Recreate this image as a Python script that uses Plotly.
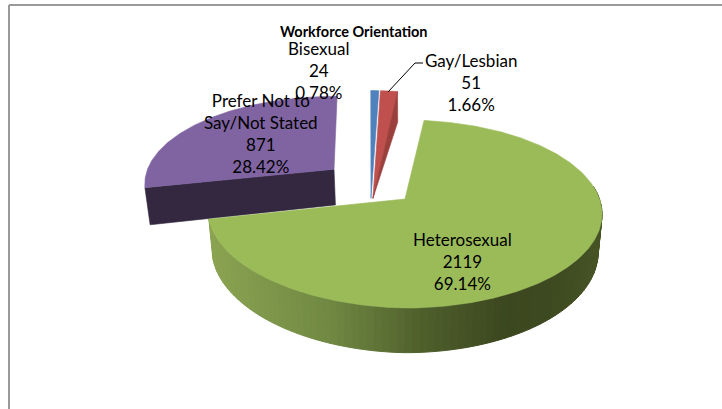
import math
import plotly.graph_objects as go

# ---- data ----
categories = ["Bisexual", "Gay/Lesbian", "Heterosexual", "Prefer Not to<br>Say/Not Stated"]
counts = [24, 51, 2119, 871]
percents = ["0.78%", "1.66%", "69.14%", "28.42%"]
title_text = "Workforce Orientation"

# ---- styles / 3D look ----
TOP = ["#4f81bd", "#c0504d", "#9bbb59", "#8064a2"]
SIDE = ["#385d8a", "#9a3f3c", "#3c471f", "#33283f"]
START_DEG = -2.3
X0, Y0, A, B, P, DEPTH = 405.0, 199.0, 194.5, 91.6, 0.16, 37.5
TAPER, LEFT_LIFT = 0.02, 0.02
# per-slice offset and radius on the pie plane: (xc, yc, rx, ry)
PLACE = [(-0.175, 0.0, 1.04, 1.45), (-0.165, 0.0, 1.04, 1.45),
         (0.0, 0.0, 1.0, 1.0), (-0.384, -0.325, 1.0, 1.02)]


def project(x, y, z=0.0):
    s = 1.0 / (1.0 - P * y)
    px = x * A * s
    py = Y0 + y * B * s + z * DEPTH * s
    py -= LEFT_LIFT * max(0.0, -px)
    return X0 + px * (1.0 - TAPER * z), py


total = sum(counts)
spans = []
a = START_DEG
for v in counts:
    spans.append((a, a + 360.0 * v / total))
    a = spans[-1][1]


def rim(i, deg, z=0.0):
    xc, yc, rx, ry = PLACE[i]
    t = math.radians(deg)
    return project(xc + rx * math.sin(t), yc - ry * math.cos(t), z)


def apex(i, z=0.0):
    return project(PLACE[i][0], PLACE[i][1], z)


def poly(fig, pts, color, line=0.6):
    xs = [p[0] for p in pts] + [pts[0][0]]
    ys = [p[1] for p in pts] + [pts[0][1]]
    fig.add_trace(go.Scatter(x=xs, y=ys, mode="lines", fill="toself", fillcolor=color,
                             line=dict(color=color, width=line), hoverinfo="skip", showlegend=False))


def top_face(fig, i):
    a0, a1 = spans[i]
    n = max(4, int((a1 - a0) * 1.5))
    pts = [apex(i)] + [rim(i, a0 + (a1 - a0) * k / n) for k in range(n + 1)]
    poly(fig, pts, TOP[i])


def mix(c1, c2, t):
    v = [int(round(c1[k] + (c2[k] - c1[k]) * t)) for k in range(3)]
    return "rgb(%d,%d,%d)" % tuple(v)


def wall_color(x):
    stops = [(205, (140, 165, 82)), (330, (112, 136, 66)), (430, (76, 92, 42)),
             (505, (60, 71, 31)), (560, (62, 74, 32)), (605, (72, 86, 38))]
    for (x1, c1), (x2, c2) in zip(stops, stops[1:]):
        if x <= x2:
            return mix(c1, c2, max(0.0, (x - x1) / (x2 - x1)))
    return mix(stops[-1][1], stops[-1][1], 0)


fig = go.Figure()

# purple slice: cut face then top
a0, a1 = spans[3]
poly(fig, [apex(3), rim(3, a0), rim(3, a0, 1.0), apex(3, 1.0)], SIDE[3])
top_face(fig, 3)

# green slice: outer wall strips then top
a0, a1 = spans[2]
w0 = 82.0
steps = 90
for k in range(steps):
    d0 = w0 + (a1 - w0) * k / steps
    d1 = w0 + (a1 - w0) * (k + 1) / steps
    pts = [rim(2, d0), rim(2, d1), rim(2, d1, 1.0), rim(2, d0, 1.0)]
    poly(fig, pts, wall_color(sum(p[0] for p in pts) / 4), line=1)
top_face(fig, 2)

# blue slice
top_face(fig, 0)

# red slice: top then cut face
top_face(fig, 1)
a0, a1 = spans[1]
poly(fig, [rim(1, a1), rim(1, a1, 1.0), apex(1)], SIDE[1])

# leader line of Gay/Lesbian
fig.add_trace(go.Scatter(x=[388, 415, 423], y=[92, 63, 63], mode="lines",
                         line=dict(color="#000000", width=1), hoverinfo="skip", showlegend=False))

LABEL_POS = [(319, 70), (471, 82), (462, 261), (261, 133)]
for name, n, pc, (lx, ly) in zip(categories, counts, percents, LABEL_POS):
    fig.add_annotation(x=lx, y=ly, text=f"{name}<br>{n}<br>{pc}", showarrow=False,
                       font=dict(family="Lato", size=17, color="#000000"), align="center")
fig.add_annotation(x=354, y=31, text=f"<b>{title_text}</b>", showarrow=False,
                   font=dict(family="Lato", size=14.5, color="#000000"))

# chart frame
fig.add_shape(type="line", x0=9, x1=722, y0=5, y1=5, line=dict(color="#9a9a9a", width=2), layer="below")
fig.add_shape(type="line", x0=9, x1=9, y0=5, y1=409, line=dict(color="#9a9a9a", width=2), layer="below")

fig.update_layout(width=722, height=409, autosize=False, margin=dict(l=0, r=0, t=0, b=0),
                  paper_bgcolor="#ffffff", plot_bgcolor="#ffffff", showlegend=False,
                  xaxis=dict(range=[0, 722], visible=False, fixedrange=True),
                  yaxis=dict(range=[409, 0], visible=False, fixedrange=True))
fig.write_html("out.html", post_script="document.body.style.margin='0';document.body.style.overflow='hidden';",
               config=dict(displayModeBar=False))
